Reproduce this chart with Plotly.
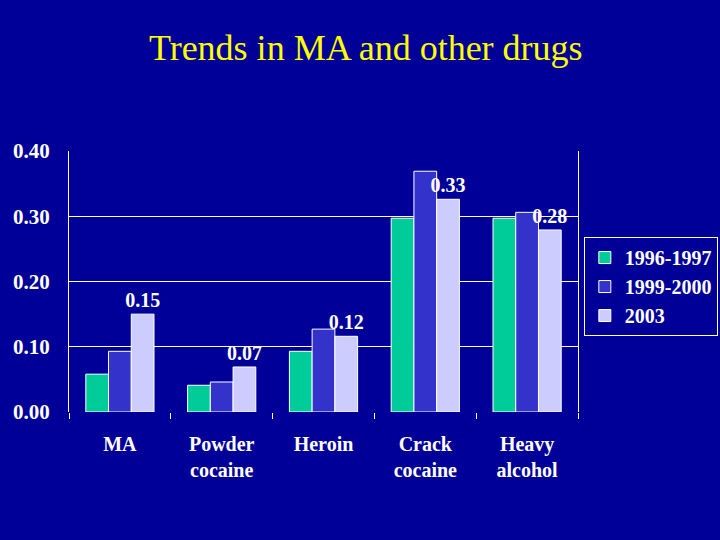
import plotly.graph_objects as go

categories = ["MA", "Powder<br>cocaine", "Heroin", "Crack<br>cocaine", "Heavy<br>alcohol"]
series_names = ["1996-1997", "1999-2000", "2003"]
v_1996 = [0.058, 0.041, 0.093, 0.297, 0.297]
v_1999 = [0.093, 0.046, 0.127, 0.369, 0.306]
v_2003 = [0.150, 0.069, 0.116, 0.326, 0.279]
y_ticks = [0.0, 0.1, 0.2, 0.3, 0.4]
colors = ["#00CC99", "#3333CC", "#CCCCFF"]

BG = "#000099"
FONT = "Liberation Serif"

fig = go.Figure()
for name, vals, col in zip(series_names, [v_1996, v_1999, v_2003], colors):
    kw = {}
    if name == "2003":
        kw = dict(text=[f"{v:.2f}" for v in vals], textposition="outside",
                  constraintext="none",
                  textfont=dict(family=FONT, size=20, color="white", weight="bold"),
                  cliponaxis=False)
    fig.add_trace(go.Bar(x=categories, y=vals, name=name,
                         marker=dict(color=col, line=dict(color="white", width=1)),
                         **kw))

fig.update_layout(
    width=720, height=540,
    paper_bgcolor=BG, plot_bgcolor=BG,
    margin=dict(l=69, r=142, t=151, b=128, autoexpand=False),
    barmode="group", bargap=0.33, bargroupgap=0,
    title=dict(text="Trends in MA and other drugs", x=0.508, xanchor="center",
               y=0.913, yanchor="middle", yref="container",
               font=dict(family=FONT, size=36, color="#FFFF00")),
    legend=dict(xref="container", x=0.997, xanchor="right",
                yref="container", y=0.561, yanchor="top",
                bordercolor="white", borderwidth=1, bgcolor=BG,
                font=dict(family=FONT, size=20, color="white", weight="bold"),
                tracegroupgap=4, itemwidth=30),
    showlegend=True,
)
fig.update_yaxes(range=[0, 0.4], tickvals=y_ticks, ticktext=[f"{t:.2f}" for t in y_ticks],
                 showgrid=True, gridcolor="white", gridwidth=1, zeroline=False,
                 showline=True, linecolor="white", linewidth=1, mirror=True,
                 tickfont=dict(family=FONT, size=21, color="white", weight="bold"),
                 ticks="", ticklabelstandoff=14)
fig.update_xaxes(showline=False, tickson="boundaries", ticks="outside", ticklen=6,
                 tickcolor="white", showgrid=False, ticklabelstandoff=18,
                 tickfont=dict(family=FONT, size=20, color="white", weight="bold"))

fig.write_html("out.html", config={"displayModeBar": False},
               post_script="document.body.style.margin='0';document.body.style.background='#000099';")
